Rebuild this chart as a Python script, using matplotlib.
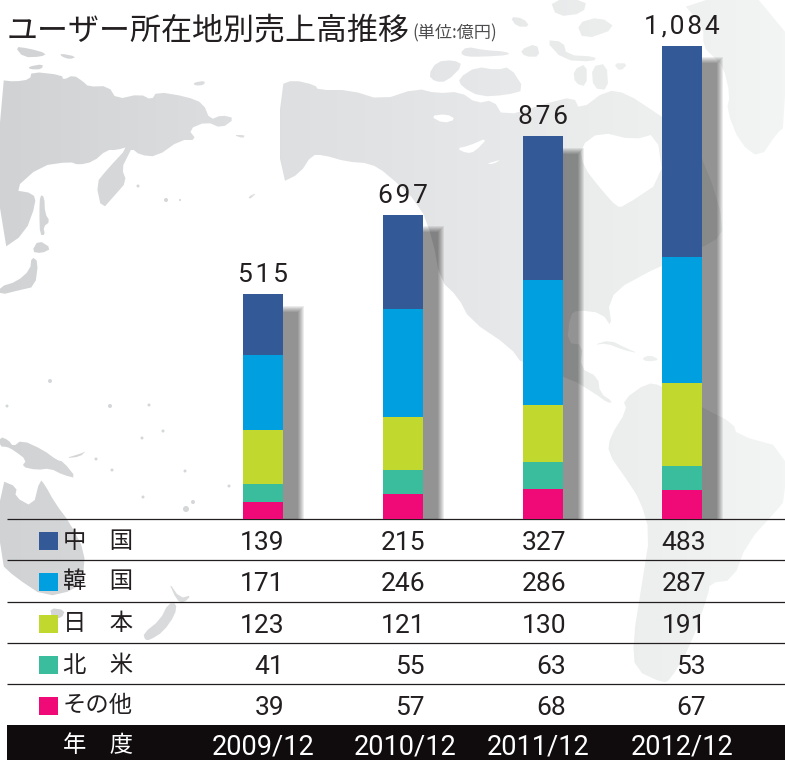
import numpy as np
import matplotlib
matplotlib.use("Agg")
import matplotlib.pyplot as plt
from matplotlib.colors import LinearSegmentedColormap
from matplotlib.patches import PathPatch, Ellipse
from matplotlib.path import Path

# data
years = ["2009/12", "2010/12", "2011/12", "2012/12"]
totals = [515, 697, 876, 1084]
china = [139, 215, 327, 483]
korea = [171, 246, 286, 287]
japan = [123, 121, 130, 191]
north_america = [41, 55, 63, 53]
others = [39, 57, 68, 67]

row_names = ["中　国", "韓　国", "日　本", "北　米", "その他"]
rows = [china, korea, japan, north_america, others]
colors = ["#345997", "#009fdf", "#c1d82f", "#39bd9d", "#ef0a78"]

JP = ["Noto Sans CJK JP", "DejaVu Sans"]
NUM = ["Roboto", "DejaVu Sans"]
DARK = "#231f20"


def crop(x0, y0, pts):
    return [(x0 + x / 3, y0 + y / 3) for x, y in pts]


def smooth(poly):
    # one round of corner cutting so the coasts are less angular
    out = []
    for a, b in zip(poly, poly[1:] + poly[:1]):
        out.append((0.75 * a[0] + 0.25 * b[0], 0.75 * a[1] + 0.25 * b[1]))
        out.append((0.25 * a[0] + 0.75 * b[0], 0.25 * a[1] + 0.75 * b[1]))
    return out


# background map outlines, in pixels
land = [
    # asia
    crop(0, 40, [(0, 120), (45, 125), (90, 118), (95, 95), (185, 105), (190, 120), (220, 105), (250, 125),
                 (265, 140), (325, 138), (350, 178), (420, 162), (455, 180), (470, 155), (560, 170), (610, 190),
                 (630, 240), (665, 225), (705, 235), (665, 265), (620, 245), (565, 268), (590, 300), (540, 300),
                 (470, 350), (420, 345), (395, 325), (385, 345), (365, 385), (380, 425), (345, 465), (305, 510),
                 (288, 430), (320, 390), (385, 320), (350, 330), (320, 330), (280, 365), (235, 375), (210, 365),
                 (120, 378), (40, 450), (100, 460), (108, 490), (75, 580), (0, 632)]),
    crop(0, 40, [(120, 465), (133, 470), (135, 520), (150, 545), (130, 560), (135, 585), (120, 585), (118, 520)]),
    crop(0, 40, [(115, 600), (155, 625), (125, 640), (95, 635)]),
    crop(0, 40, [(95, 650), (115, 665), (105, 740), (60, 750), (0, 765), (0, 740), (50, 725), (90, 690)]),
    crop(0, 40, [(45, 20), (85, 25), (140, 40), (125, 50), (70, 52)]),
    crop(0, 40, [(180, 40), (230, 50), (210, 58), (185, 50)]),
    crop(0, 40, [(85, 80), (130, 72), (125, 88), (90, 88)]),
    crop(0, 40, [(580, 128), (615, 122), (612, 135), (585, 137)]),
    crop(0, 40, [(700, 285), (735, 285), (730, 295)]),
    crop(0, 40, [(745, 470), (770, 458), (750, 478)]),
    # north america
    crop(280, 40, [(0, 135), (40, 120), (105, 135), (115, 150), (210, 150), (305, 180), (410, 145), (470, 160),
                   (540, 155), (590, 190), (640, 180), (670, 230)])
    + crop(500, 0, [(140, 310), (220, 290), (240, 330), (320, 270), (380, 280), (470, 340), (560, 400), (620, 500),
                    (675, 680), (640, 730)])
    + [(630, 280), (608, 300), (612, 328), (602, 313), (577, 310), (570, 315), (567, 343), (583, 345), (580, 368),
       (598, 377), (600, 393), (613, 402), (608, 403), (597, 395), (570, 378), (523, 365), (510, 347), (470, 320),
       (458, 297), (440, 280), (433, 240), (420, 205)]
    + crop(280, 40, [(320, 400), (270, 370), (200, 365), (130, 345), (95, 345), (60, 400), (0, 430)]),
    # canadian islands
    crop(280, 40, [(445, 105), (470, 65), (520, 60), (550, 75), (500, 125), (465, 125)]),
    crop(280, 40, [(535, 115), (590, 80), (650, 90), (690, 80), (735, 150), (680, 165), (600, 170), (545, 140)]),
    crop(280, 40, [(540, 40), (560, 20), (610, 30), (680, 35), (690, 45), (610, 50), (560, 50)]),
    crop(500, 0, [(30, 50), (70, 55), (90, 80), (50, 80)]),
    crop(500, 0, [(60, 150), (110, 130), (120, 170), (75, 170)]),
    crop(500, 0, [(135, 120), (190, 125), (200, 165), (290, 170), (280, 185), (190, 180)]),
    crop(500, 0, [(150, 0), (260, 0), (250, 40), (170, 50)]),
    crop(500, 0, [(230, 70), (300, 50), (350, 85), (250, 120)]),
    crop(500, 0, [(220, 210), (260, 190), (260, 260), (225, 250)]),
    crop(500, 0, [(275, 200), (320, 190), (325, 270), (280, 265)]),
    crop(500, 0, [(340, 190), (385, 190), (360, 215)]),
    # greenland
    crop(500, 0, [(610, 140), (640, 170), (670, 200), (690, 285), (680, 330), (720, 430), (780, 475), (830, 400),
                  (855, 380), (855, 0), (540, 0), (610, 80)]),
    # caribbean
    crop(400, 280, [(580, 195), (630, 180), (680, 205), (715, 220), (670, 210), (620, 190)]),
    crop(400, 280, [(725, 235), (750, 225), (780, 240), (740, 245)]),
    # south america
    [(623, 400), (647, 383), (660, 385), (703, 408), (733, 423), (737, 435), (785, 448), (785, 500), (777, 510),
     (747, 543), (733, 580), (710, 583), (708, 595), (690, 647), (670, 680), (663, 683), (635, 670), (633, 640),
     (642, 583), (650, 533), (640, 500), (627, 480), (608, 453), (610, 437), (627, 410)],
    # new guinea, australia, new zealand
    crop(0, 290, [(0, 440), (25, 450), (40, 470), (65, 450), (130, 480), (170, 510), (190, 515), (230, 565),
                  (190, 555), (150, 535), (110, 540), (65, 530), (80, 510), (40, 480), (20, 470), (0, 470)]),
    crop(0, 290, [(195, 505), (245, 490), (258, 483), (240, 500)]),
    [(0, 480), (17, 487), (15, 497), (33, 507), (40, 479), (45, 485), (55, 503), (70, 523), (85, 552), (83, 577),
     (75, 590), (45, 597), (15, 577), (0, 563)],
    [(50, 608), (65, 610), (62, 618), (52, 618)],
    crop(0, 500, [(430, 400), (480, 360), (505, 310), (530, 310), (525, 345), (490, 395), (450, 420), (435, 420)]),
    crop(0, 500, [(505, 245), (540, 295), (575, 285), (550, 310), (530, 300)]),
]
waters = [
    crop(500, 0, [(240, 440), (300, 395), (400, 420), (470, 400), (490, 540), (370, 620), (350, 620),
                  (305, 570), (250, 500)]),
    crop(280, 40, [(450, 228), (500, 222), (528, 238), (490, 250)]),
    crop(280, 40, [(530, 325), (565, 318), (625, 292), (585, 335), (560, 340)]),
    crop(280, 40, [(618, 372), (665, 358), (640, 372)]),
]
specks = [(50, 381, 2), (7, 406, 1.5), (110, 406, 2), (149, 405, 1.5), (163, 431, 1.5), (142, 438, 1.5),
          (186, 509, 3), (193, 502, 2), (143, 497, 1.5), (185, 471, 1.5), (229, 486, 1.5), (96, 459, 1.5),
          (112, 470, 1.5), (138, 186, 1.5), (166, 200, 2), (180, 200, 1)]

fig = plt.figure(figsize=(7.85, 7.6), dpi=100)

# everything but the bars is placed on a pixel canvas
bg = fig.add_axes([0, 0, 1, 1])
bg.axis("off")

verts, codes = [], []
for poly in land:
    poly = smooth(poly)
    verts += poly + [poly[0]]
    codes += [Path.MOVETO] + [Path.LINETO] * (len(poly) - 1) + [Path.CLOSEPOLY]
land_patch = PathPatch(Path(verts, codes), fc="none", ec="none", transform=bg.transData)
bg.add_patch(land_patch)
map_cmap = LinearSegmentedColormap.from_list("map", ["#d0d2d4", "#dbdcde", "#e2e3e5", "#ebecec", "#f3f4f4"])
img = bg.imshow(np.linspace(0, 1, 256).reshape(1, -1), cmap=map_cmap, extent=(0, 785, 760, 0), aspect="auto", zorder=1)
img.set_clip_path(land_patch)
bg.set_xlim(0, 785)
bg.set_ylim(760, 0)
for poly in waters:
    poly = smooth(poly)
    bg.fill([p[0] for p in poly], [p[1] for p in poly], color="white", lw=0, zorder=1.5)
for sx, sy, sr in specks:
    bg.add_patch(Ellipse((sx, sy), sr * 2, sr * 2, color="#d4d6d8", lw=0, zorder=1.5))

# bars
PX_PER_UNIT = 474.5 / 1084
ax = fig.add_axes([0, 241 / 760, 1, 519 / 760])
ax.set_xlim(0, 785)
ax.set_ylim(0, 519 / PX_PER_UNIT)
ax.axis("off")
ax.patch.set_alpha(0)

x = np.array([263, 403, 543, 682])
width = 40
tot = np.array(totals)

# soft shadow, built up from a few see-through layers, mostly hidden behind the bar
for i in range(-3, 4):
    w = 38 + i
    top = tot - (15 - i) / PX_PER_UNIT
    ax.bar(x + w / 2, top, w, color="black", alpha=0.075, lw=0, zorder=1)

bottom = np.zeros(4)
for vals, c in zip(rows[::-1], colors[::-1]):
    ax.bar(x, vals, width, bottom=bottom, color=c, lw=0, zorder=2)
    bottom += np.array(vals)

for xi, t in zip(x, totals):
    label = "\u200a".join(f"{t:,}")
    ax.annotate(label, (xi, t), xytext=(0, 8), textcoords="offset points", ha="center", va="baseline",
                fontsize=19, family=NUM, color=DARK)

# title
bg.text(7, 39, "ユーザー所在地別売上高推移", fontsize=22.3, family=JP, color=DARK, va="baseline", zorder=5)
bg.text(412, 38, "(単位:億円)", fontsize=12.3, family=JP, color="#4d4d4f", va="baseline", zorder=5)

# table
row_y = [519, 560, 602, 643, 684]
num_right = [284, 425, 566, 706]
for ry in row_y:
    bg.plot([7, 785], [ry, ry], color=DARK, lw=0.9, zorder=3, solid_capstyle="butt")
for ry, name, vals, c in zip(row_y, row_names, rows, colors):
    bg.fill([39, 58, 58, 39], [ry + 13, ry + 13, ry + 31, ry + 31], color=c, lw=0, zorder=4)
    bg.text(98, ry + 22, name, fontsize=16.8, family=JP, color=DARK, ha="center", va="center", zorder=5)
    for rx, v in zip(num_right, vals):
        bg.text(rx, ry + 31, str(v), fontsize=19, family=NUM, color=DARK, ha="right", va="baseline", zorder=5)

bg.fill([7, 785, 785, 7], [725, 725, 760, 760], color="#100c0d", lw=0, zorder=4)
bg.text(98, 746, "年　度", fontsize=16.8, family=JP, color="white", ha="center", va="center", zorder=5)
for xc, yr in zip([263, 405, 538, 682], years):
    bg.text(xc, 755, yr, fontsize=19.5, family=NUM, color="white", ha="center", va="baseline", zorder=5)

fig.savefig("out.png", dpi=100)
